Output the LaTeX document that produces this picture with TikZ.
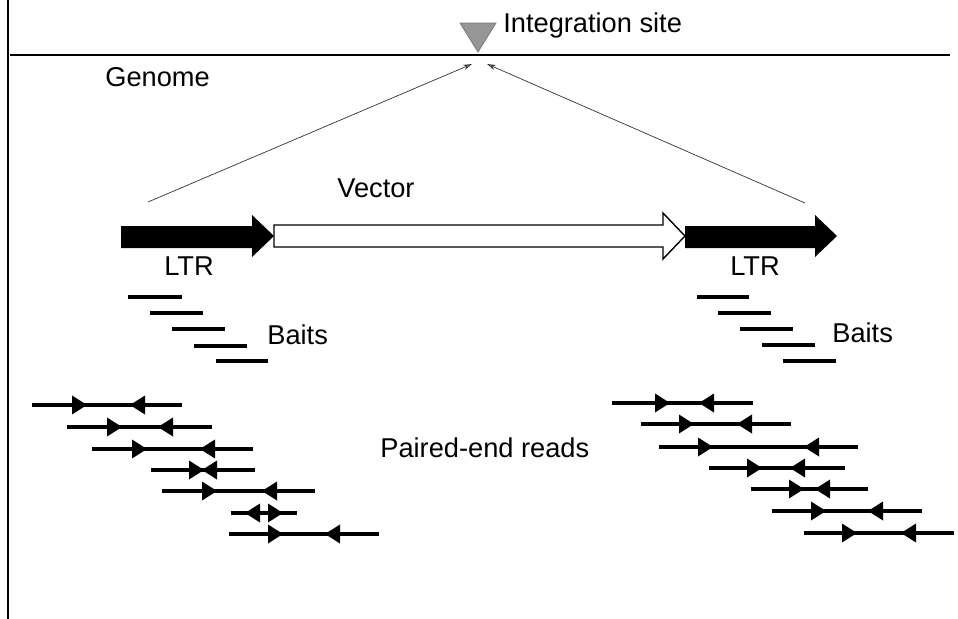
\documentclass[tikz,border=0pt]{standalone}
\usepackage{fontspec}
\setmainfont{Liberation Sans}
\usetikzlibrary{arrows.meta}
\definecolor{SiteGray}{RGB}{150, 150, 150}

\begin{document}
\begin{tikzpicture}[x=0.02cm, y=-0.02cm,
                lbl/.style={font=\fontsize{15.5}{18}\selectfont, inner sep=0pt},
                genome/.style={line width=1.6pt, black},
                guide/.style={-{Stealth[length=5pt, width=3pt, fill=SiteGray]}, thin, black!80},
                bait/.style={line width=2.1pt, black},
                read/.style={line width=2pt, black},
                fwd/.pic={\fill (-15,-9.5) -- (0,0) -- (-15,9.5) -- cycle;},
                rev/.pic={\fill (15,-9.5) -- (0,0) -- (15,9.5) -- cycle;}
            ]
                \useasboundingbox (0,0) rectangle (958,619);
                
                % Frame (left edge) and genome
                \draw[line width=1.2pt] (8,0) -- (8,619);
                \draw[genome] (10,55) -- (950,55);
                \node[lbl, anchor=west] (genome) at (105,77) {Genome};
                
                % Integration site
                \fill[SiteGray, draw=black!55, thin] (460,23) -- (496,23) -- (478,52) -- cycle;
                \node[lbl, anchor=west] (site) at (503,25) {Integration site};
                \coordinate (siteL) at (472,64);
                \coordinate (siteR) at (487,64);
                
                % Vector with LTRs
                \fill[black] (121,226) -- (252,226) -- (252,215) -- (274,236) -- (252,257) -- (252,248) -- (121,248) -- cycle;
                \draw[thick, fill=white] (274,225) -- (663,225) -- (663,213) -- (685,236) -- (663,259) -- (663,247) -- (274,247) -- cycle;
                \fill[black] (685,226) -- (815,226) -- (815,215) -- (837,236) -- (815,257) -- (815,248) -- (685,248) -- cycle;
                \node[lbl] (ltrL) at (189,266) {LTR};
                \node[lbl] (ltrR) at (755,266) {LTR};
                \node[lbl, anchor=west] (vector) at (337,188) {Vector};
                \coordinate (endL) at (148,202);
                \coordinate (endR) at (805,203);
                \draw[guide] (endL) -- (siteL);
                \draw[guide] (endR) -- (siteR);
                
                % Baits
                \foreach \xa/\xb/\y in {128/182/297, 150/203/313, 172/225/329, 194/247/346, 216/268/361}
                    \draw[bait] (\xa,\y) -- (\xb,\y);
                \foreach \xa/\xb/\y in {697/749/297, 718/771/313, 740/793/329, 762/815/345, 783/836/361}
                    \draw[bait] (\xa,\y) -- (\xb,\y);
                \node[lbl, anchor=west] (baitsL) at (267,335) {Baits};
                \node[lbl, anchor=west] (baitsR) at (832,333) {Baits};
                
                % Paired-end reads (start/end/y/forward tip/reverse tip)
                \foreach \xa/\xb/\y/\tf/\tr in {32/182/405/87/130, 67/212/427/122/158, 92/253/449/147/200,
                        151/255/470/204/202, 162/315/491/217/262, 229/379/534/283/325,
                        612/753/403/670/699, 641/791/424/694/737, 659/858/447/713/804, 709/845/468/762/790,
                        751/868/489/804/815, 772/922/511/826/868, 804/954/533/857/901}
                {
                    \draw[read] (\xa,\y) -- (\xb,\y);
                    \pic at (\tf,\y) {fwd};
                    \pic at (\tr,\y) {rev};
                }
                % short read with outward ends
                \draw[read] (231,513) -- (297,513);
                \pic at (245,513) {rev};
                \pic at (283,513) {fwd};
                \node[lbl, anchor=west] (reads) at (380,448) {Paired-end reads};
            \end{tikzpicture}
\end{document}
